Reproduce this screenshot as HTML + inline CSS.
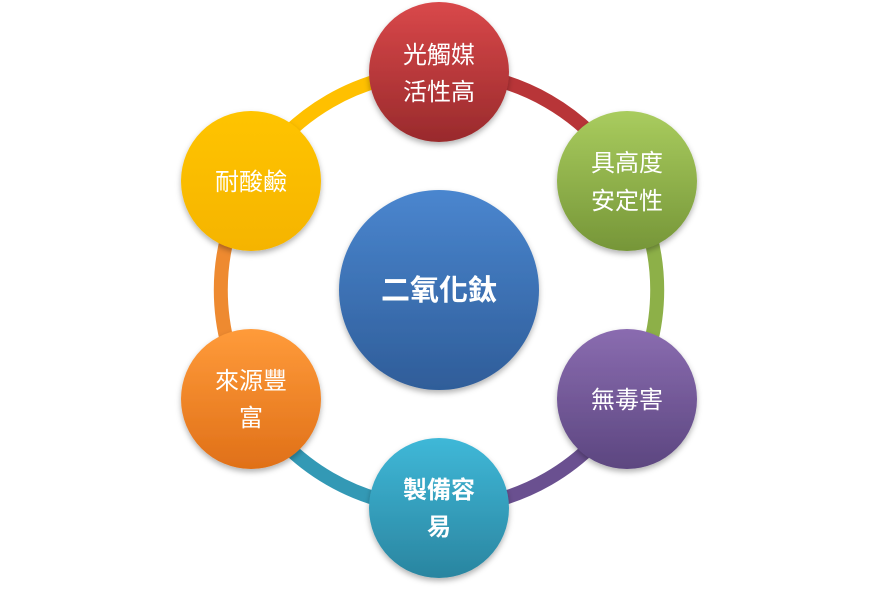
<!DOCTYPE html>
<html><head><meta charset="utf-8"><style>
html,body{margin:0;padding:0;background:#fff;width:878px;height:589px;overflow:hidden}
svg text{font-family:"Liberation Sans","Noto Sans CJK TC",sans-serif;fill:#fff}
</style></head><body>
<svg width="878" height="589" viewBox="0 0 878 589" xmlns="http://www.w3.org/2000/svg">
<defs>
<linearGradient id="gr" x1="0" y1="0" x2="0" y2="1"><stop offset="0" stop-color="#d9484a"/><stop offset="1" stop-color="#992a2c"/></linearGradient>
<linearGradient id="gg" x1="0" y1="0" x2="0" y2="1"><stop offset="0" stop-color="#a9cc5e"/><stop offset="1" stop-color="#769638"/></linearGradient>
<linearGradient id="gp" x1="0" y1="0" x2="0" y2="1"><stop offset="0" stop-color="#8a6cb0"/><stop offset="1" stop-color="#5c4680"/></linearGradient>
<linearGradient id="gt" x1="0" y1="0" x2="0" y2="1"><stop offset="0" stop-color="#3fb8d8"/><stop offset="1" stop-color="#2a85a0"/></linearGradient>
<linearGradient id="go" x1="0" y1="0" x2="0" y2="1"><stop offset="0" stop-color="#ff9b3a"/><stop offset="1" stop-color="#e07018"/></linearGradient>
<linearGradient id="gy" x1="0" y1="0" x2="0" y2="1"><stop offset="0" stop-color="#ffc400"/><stop offset="1" stop-color="#f5b400"/></linearGradient>
<linearGradient id="gb" x1="0" y1="0" x2="0" y2="1"><stop offset="0" stop-color="#4a86cf"/><stop offset="1" stop-color="#2f5d99"/></linearGradient>
<filter id="sh" x="-20%" y="-20%" width="140%" height="150%"><feDropShadow dx="0" dy="3" stdDeviation="3" flood-color="#000" flood-opacity="0.3"/></filter>
</defs>
<g fill="none" stroke-width="14">
<path d="M439 72 A218 218 0 0 1 628 181" stroke="#b83538"/>
<path d="M628 181 A218 218 0 0 1 628 399" stroke="#8db048"/>
<path d="M628 399 A218 218 0 0 1 439 508" stroke="#6a5090"/>
<path d="M439 508 A218 218 0 0 1 250 399" stroke="#3399b5"/>
<path d="M250 399 A218 218 0 0 1 250 181" stroke="#ee8a30"/>
<path d="M250 181 A218 218 0 0 1 439 72" stroke="#ffc000"/>
</g>
<g filter="url(#sh)">
<circle cx="439" cy="290" r="100" fill="url(#gb)"/>
<circle cx="439" cy="72" r="70" fill="url(#gr)"/>
<circle cx="627" cy="181" r="70" fill="url(#gg)"/>
<circle cx="627" cy="399" r="70" fill="url(#gp)"/>
<circle cx="439" cy="508" r="70" fill="url(#gt)"/>
<circle cx="251" cy="399" r="70" fill="url(#go)"/>
<circle cx="251" cy="181" r="70" fill="url(#gy)"/>
</g>
<g font-size="24" text-anchor="middle">
<text x="439" y="300" font-size="29" font-weight="bold">二氧化鈦</text>
<text x="439" y="63">光觸媒</text><text x="439" y="100">活性高</text>
<text x="627" y="171">具高度</text><text x="627" y="209">安定性</text>
<text x="627" y="408">無毒害</text>
<text x="439" y="498" font-weight="bold">製備容</text><text x="439" y="535" font-weight="bold">易</text>
<text x="251" y="389">來源豐</text><text x="251" y="426">富</text>
<text x="251" y="190">耐酸鹼</text>
</g>
</svg>
</body></html>
